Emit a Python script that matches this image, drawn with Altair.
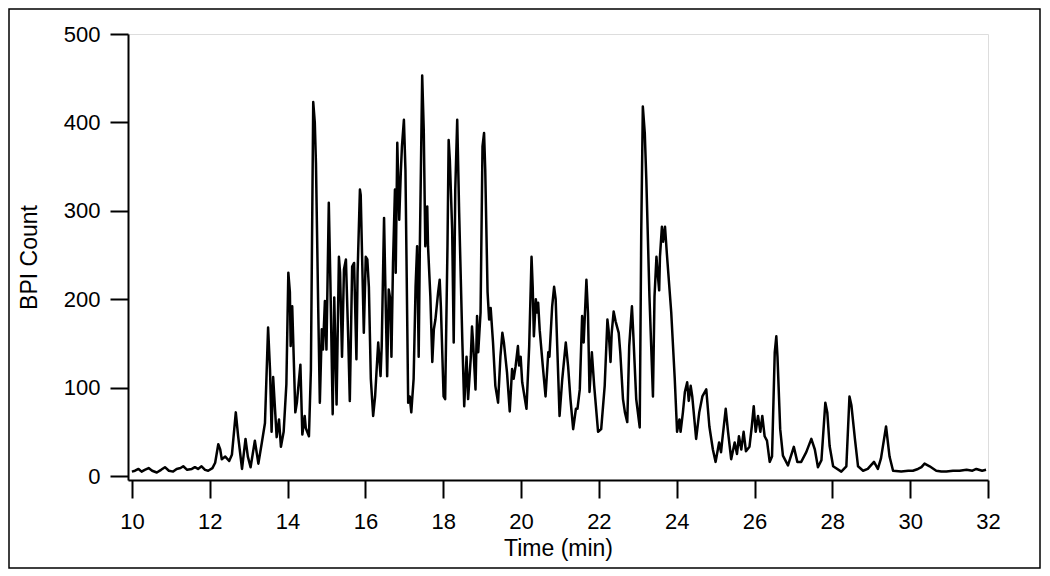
import altair as alt
import pandas as pd

time_min = [
    10.00, 10.08, 10.17, 10.25, 10.33, 10.43, 10.52, 10.64, 10.75, 10.85, 10.95, 11.06, 11.15, 11.25,
    11.32, 11.42, 11.54, 11.62, 11.70, 11.79, 11.88, 11.96, 12.07, 12.14, 12.22, 12.27, 12.31, 12.40,
    12.50, 12.57, 12.67, 12.73, 12.83, 12.92, 12.98, 13.05, 13.16, 13.25, 13.34, 13.42, 13.50, 13.55,
    13.59, 13.63, 13.72, 13.78, 13.83, 13.90, 13.97, 14.02, 14.06, 14.08, 14.12, 14.20, 14.24, 14.33,
    14.38, 14.44, 14.47, 14.55, 14.60, 14.66, 14.70, 14.73, 14.79, 14.83, 14.88, 14.91, 14.96, 15.00,
    15.06, 15.10, 15.16, 15.20, 15.26, 15.32, 15.35, 15.40, 15.45, 15.50, 15.56, 15.60, 15.66, 15.71,
    15.77, 15.80, 15.86, 15.88, 15.96, 16.01, 16.05, 16.09, 16.14, 16.20, 16.25, 16.29, 16.33, 16.39,
    16.42, 16.48, 16.51, 16.56, 16.60, 16.64, 16.67, 16.71, 16.76, 16.78, 16.82, 16.87, 16.91, 16.94,
    16.99, 17.03, 17.10, 17.14, 17.18, 17.24, 17.29, 17.33, 17.37, 17.40, 17.46, 17.50, 17.54, 17.59,
    17.61, 17.67, 17.72, 17.76, 17.80, 17.87, 17.91, 17.94, 18.01, 18.05, 18.11, 18.14, 18.17, 18.23,
    18.27, 18.31, 18.36, 18.41, 18.49, 18.54, 18.60, 18.64, 18.71, 18.74, 18.77, 18.83, 18.87, 18.90,
    18.96, 19.01, 19.05, 19.08, 19.14, 19.18, 19.22, 19.28, 19.34, 19.41, 19.47, 19.52, 19.56, 19.64,
    19.71, 19.77, 19.81, 19.86, 19.92, 19.95, 19.99, 20.03, 20.14, 20.21, 20.27, 20.30, 20.33, 20.38,
    20.41, 20.44, 20.48, 20.56, 20.63, 20.70, 20.73, 20.80, 20.85, 20.89, 20.93, 20.99, 21.06, 21.15,
    21.21, 21.27, 21.34, 21.41, 21.45, 21.51, 21.57, 21.61, 21.68, 21.72, 21.76, 21.82, 21.88, 21.98,
    22.06, 22.15, 22.22, 22.25, 22.30, 22.33, 22.38, 22.43, 22.51, 22.55, 22.62, 22.67, 22.73, 22.78,
    22.85, 22.88, 22.96, 23.05, 23.09, 23.13, 23.18, 23.22, 23.30, 23.39, 23.43, 23.48, 23.51, 23.55,
    23.57, 23.62, 23.65, 23.70, 23.75, 23.86, 23.95, 24.01, 24.07, 24.10, 24.16, 24.21, 24.27, 24.31,
    24.36, 24.40, 24.50, 24.58, 24.66, 24.76, 24.84, 24.93, 25.00, 25.09, 25.14, 25.17, 25.26, 25.32,
    25.40, 25.49, 25.55, 25.60, 25.66, 25.72, 25.78, 25.87, 25.93, 25.98, 26.03, 26.09, 26.15, 26.20,
    26.26, 26.32, 26.39, 26.45, 26.52, 26.56, 26.59, 26.66, 26.73, 26.86, 27.01, 27.10, 27.20, 27.33,
    27.46, 27.55, 27.63, 27.72, 27.82, 27.87, 27.93, 28.02, 28.23, 28.36, 28.44, 28.49, 28.58, 28.66,
    28.79, 28.91, 29.07, 29.17, 29.25, 29.38, 29.47, 29.56, 29.77, 29.95, 30.07, 30.20, 30.29, 30.37,
    30.50, 30.67, 30.80, 30.93, 31.10, 31.27, 31.45, 31.60, 31.70, 31.85, 31.95,
]

bpi_count = [
    5, 6, 8, 5, 7, 9, 6, 4, 7, 10, 6, 5, 8, 9,
    11, 7, 8, 10, 8, 11, 7, 6, 9, 15, 36, 30, 19, 22,
    17, 24, 72, 45, 8, 42, 22, 10, 40, 14, 38, 60, 168, 120,
    50, 112, 44, 64, 33, 50, 104, 230, 208, 147, 192, 72, 83, 126,
    47, 68, 54, 45, 120, 423, 400, 354, 185, 83, 166, 143, 198, 143,
    309, 222, 70, 202, 81, 248, 230, 135, 234, 245, 155, 85, 237, 241,
    132, 230, 324, 318, 162, 248, 245, 214, 110, 68, 90, 121, 151, 113,
    147, 292, 222, 113, 211, 200, 135, 241, 324, 230, 377, 290, 343, 373,
    403, 346, 83, 90, 72, 110, 214, 260, 135, 260, 453, 392, 260, 305,
    260, 203, 129, 166, 177, 208, 222, 192, 90, 87, 260, 380, 358, 279,
    151, 324, 403, 298, 155, 79, 135, 87, 135, 169, 150, 98, 181, 140,
    185, 373, 388, 347, 208, 177, 190, 151, 102, 83, 135, 162, 151, 117,
    73, 121, 110, 124, 147, 125, 135, 106, 76, 147, 248, 214, 158, 200,
    185, 196, 165, 124, 90, 140, 135, 192, 214, 200, 147, 68, 110, 151,
    124, 87, 53, 76, 76, 98, 181, 151, 222, 185, 95, 140, 102, 50,
    53, 102, 177, 165, 129, 162, 186, 175, 162, 140, 87, 72, 61, 147,
    192, 165, 87, 55, 279, 418, 388, 335, 203, 90, 203, 248, 230, 210,
    248, 282, 265, 282, 250, 185, 110, 50, 64, 50, 72, 95, 106, 85,
    102, 90, 42, 72, 90, 98, 56, 30, 16, 38, 27, 40, 76, 50,
    19, 38, 25, 45, 30, 50, 28, 33, 56, 79, 50, 68, 50, 68,
    45, 40, 16, 22, 140, 158, 135, 53, 23, 12, 33, 16, 16, 27,
    42, 30, 10, 18, 83, 72, 34, 11, 5, 11, 90, 80, 42, 11,
    6, 8, 16, 8, 20, 56, 22, 6, 5, 6, 6, 8, 10, 14,
    11, 6, 5, 5, 6, 6, 7, 6, 8, 6, 7,
]

x_ticks = list(range(10, 33, 2))
y_ticks = [0, 100, 200, 300, 400, 500]

df = pd.DataFrame({"time": time_min, "bpi": bpi_count})

FONT = "Liberation Sans"

line = alt.Chart(df).mark_line(color="black", strokeWidth=2.5, strokeJoin="round").encode(
    x=alt.X(
        "time:Q",
        scale=alt.Scale(domain=[9.9, 32], nice=False, zero=False),
        axis=alt.Axis(
            values=x_ticks, title="Time (min)", grid=False,
            tickSize=18, tickWidth=2, domainWidth=2,
            tickColor="black", domainColor="black",
            labelFontSize=22, labelColor="black", labelPadding=13, labelFont=FONT,
            titleFontSize=23, titleColor="black", titleFontWeight="normal", titleFont=FONT,
            titlePadding=5, labelFlush=False,
        ),
    ),
    y=alt.Y(
        "bpi:Q",
        scale=alt.Scale(domain=[-4.5, 500], nice=False, zero=False),
        axis=alt.Axis(
            values=y_ticks, title="BPI Count", grid=False,
            tickSize=18, tickWidth=2, domainWidth=2,
            tickColor="black", domainColor="black",
            labelFontSize=22, labelColor="black", labelPadding=10, labelFont=FONT,
            titleFontSize=23, titleColor="black", titleFontWeight="normal", titleFont=FONT,
            titlePadding=22, labelFlush=False,
        ),
    ),
)

frame = alt.Chart(pd.DataFrame({"k": [0]})).mark_rect(
    fillOpacity=0, stroke="black", strokeWidth=1.5
).encode(
    x=alt.value(-119), x2=alt.value(912), y=alt.value(-25), y2=alt.value(534)
)

chart = alt.layer(frame, line).properties(
    width=860,
    height=446,
    padding={"left": 120, "top": 26, "right": 54, "bottom": 90},
    autosize=alt.AutoSizeParams(type="none"),
).configure_view(strokeWidth=0).configure(font=FONT)

chart.save("out.html", embed_options={"renderer": "svg", "actions": False})
